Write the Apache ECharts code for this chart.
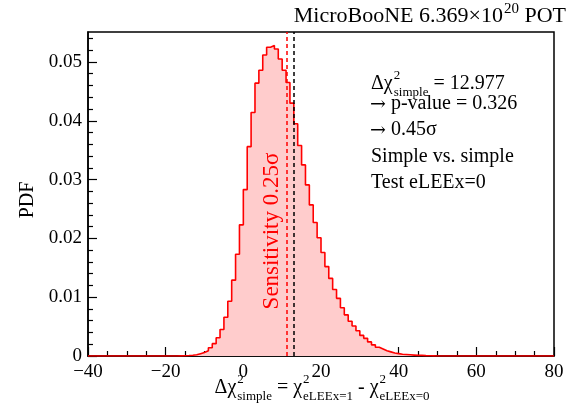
<!DOCTYPE html>
<html><head><meta charset="utf-8">
<script src="https://cdn.jsdelivr.net/npm/echarts@6.0.0/dist/echarts.min.js"></script>
<style>html,body{margin:0;padding:0;background:#fff}#c{width:580px;height:413px}</style>
</head><body><div id="c"></div><script>
// ---- data ----
const binFirstEdge = -40;
const binWidth = 1;
// PDF per bin, bins [-40,-39] ... [79,80]
const pdfValues = [
  0,0,0,0,0,0,0,0,0,0, 0,0,0,0,0,0,0,0,0,0, 0,0,0,
  0.00002,0.00004,0.00008,0.00013,0.0002,0.0004,0.0006,0.0009,0.0014,0.0021,
  0.0031,0.0045,0.0066,0.0093,0.0129,0.0173,0.0223,
  0.0283,0.0356,0.0414,0.0464,0.0486,0.0512,0.0525,0.0528,0.0522,0.0505,
  0.0486,0.0465,0.0430,0.0395,0.0358,0.0325,0.0291,0.0257,0.0227,0.0201,
  0.0176,0.0152,0.0132,0.0113,0.0098,0.0082,0.0070,0.0059,0.0051,0.0043,
  0.0035,0.0030,0.0024,0.0019,0.0015,0.0012,0.0009,0.0007,0.0005,0.0004,
  0.0003,0.00025,0.0002,0.00015,0.0001,0.0001,0.00006,0.00004,0.00002,
  0,0,0,0,0,0,0,0,0,0, 0,0,0,0,0,0,0,0,0,0, 0,0,0,0,0,0,0,0,0,0, 0
];
const xTicks = [-40,-20,0,20,40,60,80];
const yTicks = [0,0.01,0.02,0.03,0.04,0.05];
const yMinorTicks = [0.002,0.004,0.006,0.008,0.012,0.014,0.016,0.018,0.022,0.024,0.026,0.028,
  0.032,0.034,0.036,0.038,0.042,0.044,0.046,0.048,0.052,0.054];
const observedValue = 12.977;
const sensitivityValue = 11.3;
const titleText = {main:'MicroBooNE 6.369×10', sup:'20', tail:' POT'};
const infoLines = ['→ p-value = 0.326','→ 0.45σ','Simple vs. simple','Test eLEEx=0'];
const sensitivityLabel = 'Sensitivity 0.25σ';

// ---- build ----
const FONT = '"Liberation Serif", "Times New Roman", serif';
const ARROWFONT = '"DejaVu Serif", serif';
const histPoints = pdfValues.map((v,i)=>[binFirstEdge + i*binWidth, v]);
histPoints.push([binFirstEdge + pdfValues.length*binWidth, pdfValues[pdfValues.length-1]]);

const mctx = document.createElement('canvas').getContext('2d');
function tw(t, fs, fam){ mctx.font = fs+'px '+(fam||FONT); return mctx.measureText(t).width; }
function txt(t, x, base, fs, color, align, fam){
  return {type:'text', x:x, y:base - 0.3*fs, silent:true, z:100,
    style:{text:t, font:fs+'px '+(fam||FONT), fill:color||'#000',
      align:align||'left', verticalAlign:'middle', textAlign:align||'left', textVerticalAlign:'middle'}};
}
function mathRow(segs, x, base, fs, sfs, supOff, subOff){
  const els = [];
  let cx = x;
  segs.forEach(s=>{
    if (s.t !== undefined){ els.push(txt(s.t, cx, base, fs)); cx += tw(s.t, fs); }
    else {
      let w = 0;
      if (s.sup){ els.push(txt(s.sup, cx+1, base - supOff, sfs)); w = Math.max(w, tw(s.sup, sfs)+1); }
      if (s.sub){ els.push(txt(s.sub, cx+1, base + subOff, sfs)); w = Math.max(w, tw(s.sub, sfs)+1); }
      cx += w;
    }
  });
  return {els, width: cx - x};
}
function rowWidth(segs, fs, sfs){
  let w=0; segs.forEach(s=>{ if(s.t!==undefined) w+=tw(s.t,fs); else w+=Math.max(s.sup?tw(s.sup,sfs)+1:0, s.sub?tw(s.sub,sfs)+1:0); }); return w;
}

const graphics = [];
// title
const tSegs = [{t:titleText.main},{sup:titleText.sup},{t:titleText.tail}];
const tW = rowWidth(tSegs, 22, 15);
graphics.push(...mathRow(tSegs, 566 - tW, 23, 22, 15, 9, 0).els);
// info box
graphics.push(...mathRow([{t:'Δχ'},{sup:'2',sub:'simple'},{t:' = 12.977'}], 371, 90, 20, 13, 11, 6).els);
infoLines.forEach((l,i)=>{
  const base = [110,136,163,189][i];
  if (l.startsWith('→')){
    graphics.push(txt('→', 370, base+1, 19, '#000', 'left', ARROWFONT));
    const aw = tw('→', 19, ARROWFONT);
    graphics.push(txt(l.slice(1), 370 + aw, base, 20));
  } else graphics.push(txt(l, 371, base, 20));
});
// x axis title
const xSegs = [{t:'Δχ'},{sup:'2',sub:'simple'},{t:' = χ'},{sup:'2',sub:'eLEEx=1'},{t:' - χ'},{sup:'2',sub:'eLEEx=0'}];
const xW = rowWidth(xSegs, 20, 13);
graphics.push(...mathRow(xSegs, 322 - xW/2, 394, 20, 13, 11, 6).els);
// y axis title
graphics.push({type:'text', x:28, y:200, rotation:Math.PI/2, silent:true,
  style:{text:'PDF', font:'20px '+FONT, fill:'#000', align:'center', verticalAlign:'middle', textAlign:'center', textVerticalAlign:'middle'}});
// sensitivity label
graphics.push({type:'text', x:272, y:231, rotation:Math.PI/2, silent:true, z:100,
  style:{text:sensitivityLabel, font:'23px '+FONT, fill:'#ff0000', align:'center', verticalAlign:'middle', textAlign:'center', textVerticalAlign:'middle'}});

const chart = echarts.init(document.getElementById('c'), null, {renderer:'canvas'});
chart.setOption({
  animation:false,
  backgroundColor:'#fff',
  grid:{left:88, right:26, top:32, bottom:57, show:true, borderColor:'#000', borderWidth:1.5, backgroundColor:'transparent'},
  xAxis:{type:'value', min:-40, max:80, interval:20,
    axisLine:{show:true, onZero:false, lineStyle:{color:'#000', width:1.5}},
    axisTick:{show:true, inside:true, length:9, lineStyle:{color:'#000', width:1.2}, customValues:xTicks},
    minorTick:{show:true, splitNumber:4, length:5, lineStyle:{color:'#000', width:1.2}},
    axisLabel:{show:true, customValues:xTicks, margin:7, color:'#000', fontSize:19, fontFamily:FONT,
      formatter:v=> v<0 ? '−'+Math.abs(v) : String(v)},
    splitLine:{show:false}, minorSplitLine:{show:false}},
  yAxis:[
    {type:'value', min:0, max:0.0551, interval:0.01, position:'left',
      axisLine:{show:true, onZero:false, lineStyle:{color:'#000', width:1.5}},
      axisTick:{show:true, inside:true, length:9, lineStyle:{color:'#000', width:1.2}, customValues:yTicks},
      axisLabel:{show:true, customValues:yTicks, margin:6, color:'#000', fontSize:19, fontFamily:FONT,
        formatter:v=> v===0 ? '0' : v.toFixed(2)},
      splitLine:{show:false}},
    {type:'value', min:0, max:0.0551, position:'left',
      axisLine:{show:false, onZero:false},
      axisTick:{show:true, inside:true, length:5, lineStyle:{color:'#000', width:1.2}, customValues:yMinorTicks},
      axisLabel:{show:false}, splitLine:{show:false}}
  ],
  series:[{
    type:'line', step:'end', data:histPoints, yAxisIndex:0,
    showSymbol:false, symbol:'none', silent:true,
    lineStyle:{color:'#ff0000', width:1.6},
    areaStyle:{color:'#ffcccc', opacity:1},
    markLine:{silent:true, symbol:['none','none'], label:{show:false}, animation:false,
      data:[
        {xAxis:sensitivityValue, lineStyle:{color:'#ff0000', type:[4,3], width:1.5}},
        {xAxis:observedValue, lineStyle:{color:'#000', type:[4,3], width:1.5}}
      ]}
  }],
  graphic:{elements:graphics}
});
</script></body></html>
